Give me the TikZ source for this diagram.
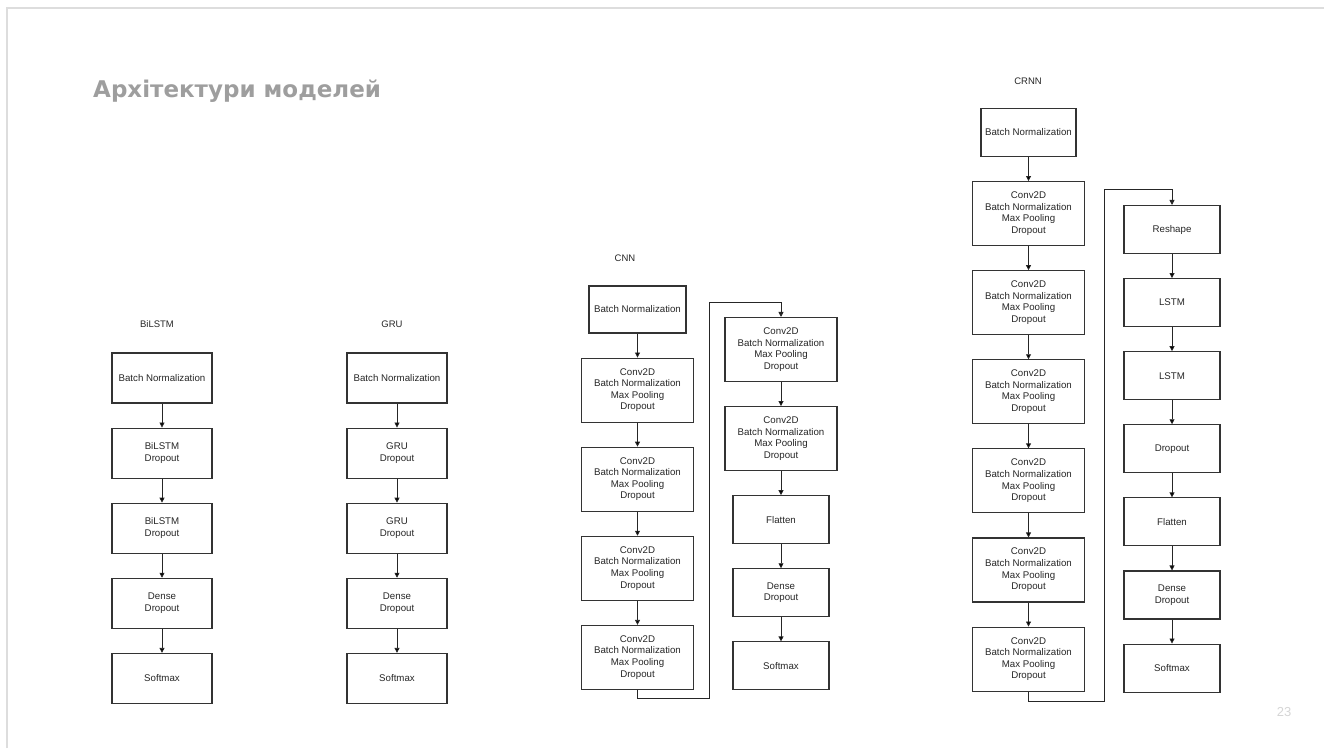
\documentclass[tikz,border=0pt]{standalone}
\usepackage{fontspec}
\setmainfont{Liberation Sans}
\newfontfamily\titlefont{DejaVu Sans}
\usetikzlibrary{positioning,arrows.meta}
\definecolor{framegray}{HTML}{DDDDDD}
\definecolor{titlegray}{HTML}{9E9E9E}
\definecolor{numgray}{HTML}{D5D5D5}
\definecolor{boxline}{HTML}{333333}
\begin{document}
\begin{tikzpicture} [
   x=1pt, y=-1pt, node distance=24pt,
   >={Triangle[length=5pt,width=5pt]},
   blk/.style={draw=boxline, line width=1.1pt, minimum width=100pt, minimum height=50pt,
      inner sep=1pt, align=center, text=black!85, font=\fontsize{9.7}{11.6}\selectfont},
   cv/.style={blk, minimum width=112pt, minimum height=64pt},
   sm/.style={blk, minimum width=96pt, minimum height=48pt},
   hd/.style={text=black!85, font=\fontsize{9.5}{11}\selectfont},
   link/.style={->, line width=0.8pt, draw=black!85}
]
   \useasboundingbox (0,0) rectangle (1324,748);
   \draw [framegray, line width=2pt] (6.5,748) -- (6.5,7.5) -- (1324,7.5);
   \node (title) [anchor=base west, inner sep=0pt, text=titlegray,
      font=\titlefont\bfseries\fontsize{23}{26}\selectfont] at (93,97) {Архітектури моделей};
   \node (pagenum) [text=numgray, font=\fontsize{13}{15}\selectfont] at (1284,712) {23};

   % BiLSTM
   \node (bilstm) [hd] at (157,324) {BiLSTM};
   \node (b1) [blk] at (162,378) {Batch Normalization};
   \node (b2) [blk, below=of b1] {BiLSTM\\Dropout};
   \node (b3) [blk, below=of b2] {BiLSTM\\Dropout};
   \node (b4) [blk, below=of b3] {Dense\\Dropout};
   \node (b5) [blk, below=of b4] {Softmax};
   \path [link] (b1) edge (b2) (b2) edge (b3) (b3) edge (b4) (b4) edge (b5);

   % GRU
   \node (gru) [hd] at (392,324) {GRU};
   \node (g1) [blk] at (397,378) {Batch Normalization};
   \node (g2) [blk, below=of g1] {GRU\\Dropout};
   \node (g3) [blk, below=of g2] {GRU\\Dropout};
   \node (g4) [blk, below=of g3] {Dense\\Dropout};
   \node (g5) [blk, below=of g4] {Softmax};
   \path [link] (g1) edge (g2) (g2) edge (g3) (g3) edge (g4) (g4) edge (g5);

   % CNN
   \node (cnn) [hd] at (625,258) {CNN};
   \node (c0) [blk, minimum width=97pt, minimum height=47pt] at (637.5,309.5) {Batch Normalization};
   \node (c1) [cv, below=of c0] {Conv2D\\Batch Normalization\\Max Pooling\\Dropout};
   \node (c2) [cv, below=of c1] {Conv2D\\Batch Normalization\\Max Pooling\\Dropout};
   \node (c3) [cv, below=of c2] {Conv2D\\Batch Normalization\\Max Pooling\\Dropout};
   \node (c4) [cv, below=of c3] {Conv2D\\Batch Normalization\\Max Pooling\\Dropout};
   \node (d1) [cv] at (781,349.5) {Conv2D\\Batch Normalization\\Max Pooling\\Dropout};
   \node (d2) [cv, below=of d1] {Conv2D\\Batch Normalization\\Max Pooling\\Dropout};
   \node (d3) [sm, below=of d2] {Flatten};
   \node (d4) [sm, below=of d3] {Dense\\Dropout};
   \node (d5) [sm, below=of d4] {Softmax};
   \coordinate (cturn1) at (709,698);
   \coordinate (cturn2) at (709,302);
   \path [link] (c0) edge (c1) (c1) edge (c2) (c2) edge (c3) (c3) edge (c4)
                (d1) edge (d2) (d2) edge (d3) (d3) edge (d4) (d4) edge (d5);
   \draw [link] (c4.south) |- (cturn1) -- (cturn2) -| (d1.north);

   % CRNN
   \node (crnn) [hd] at (1028,81) {CRNN};
   \node (r0) [blk, minimum width=95pt, minimum height=48pt] at (1028.5,132.5) {Batch Normalization};
   \node (r1) [cv, below=of r0] {Conv2D\\Batch Normalization\\Max Pooling\\Dropout};
   \node (r2) [cv, below=of r1] {Conv2D\\Batch Normalization\\Max Pooling\\Dropout};
   \node (r3) [cv, below=of r2] {Conv2D\\Batch Normalization\\Max Pooling\\Dropout};
   \node (r4) [cv, below=of r3] {Conv2D\\Batch Normalization\\Max Pooling\\Dropout};
   \node (r5) [cv, below=of r4] {Conv2D\\Batch Normalization\\Max Pooling\\Dropout};
   \node (r6) [cv, below=of r5] {Conv2D\\Batch Normalization\\Max Pooling\\Dropout};
   \node (s1) [sm] at (1172,229.5) {Reshape};
   \node (s2) [sm, below=of s1] {LSTM};
   \node (s3) [sm, below=of s2] {LSTM};
   \node (s4) [sm, below=of s3] {Dropout};
   \node (s5) [sm, below=of s4] {Flatten};
   \node (s6) [sm, below=of s5] {Dense\\Dropout};
   \node (s7) [sm, below=of s6] {Softmax};
   \coordinate (rturn1) at (1104,701);
   \coordinate (rturn2) at (1104,189);
   \path [link] (r0) edge (r1) (r1) edge (r2) (r2) edge (r3) (r3) edge (r4) (r4) edge (r5) (r5) edge (r6)
                (s1) edge (s2) (s2) edge (s3) (s3) edge (s4) (s4) edge (s5) (s5) edge (s6) (s6) edge (s7);
   \draw [link] (r6.south) |- (rturn1) -- (rturn2) -| (s1.north);
\end{tikzpicture}
\end{document}
